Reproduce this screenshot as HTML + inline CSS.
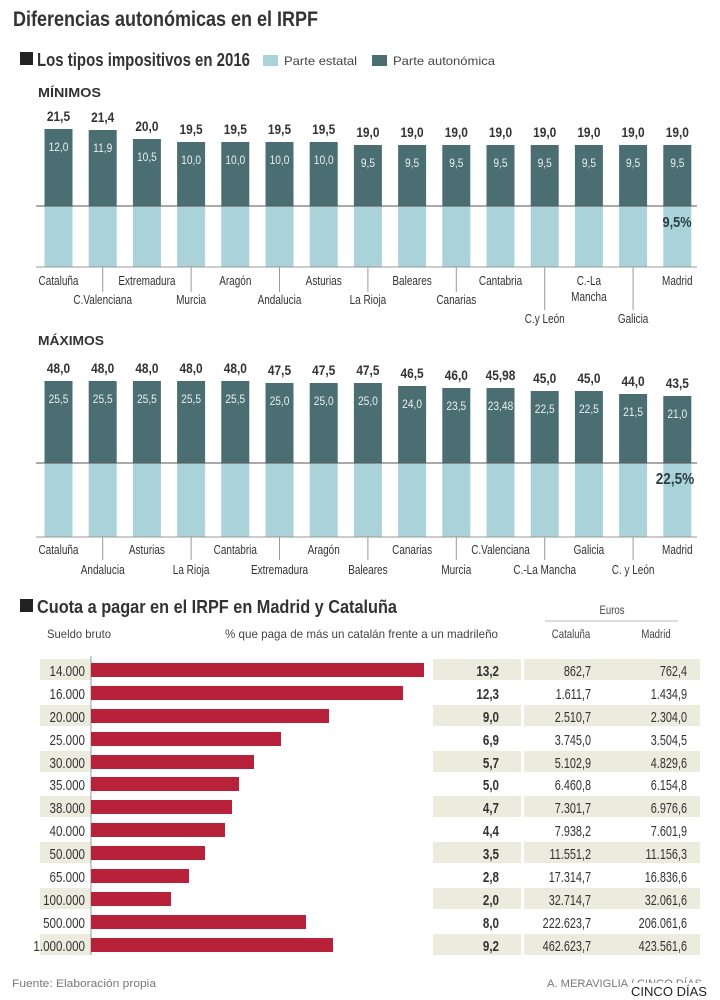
<!DOCTYPE html>
<html><head><meta charset="utf-8"><style>
body{margin:0;background:#fff;}
svg{display:block;font-family:"Liberation Sans",sans-serif;}
.t{fill:#333;}
.vb{font-weight:bold;font-size:14px;fill:#333;text-anchor:middle;}
.vi{font-size:12px;fill:#e8f0f0;text-anchor:middle;}
.lb{font-size:12.5px;fill:#333;text-anchor:middle;}
.d{fill:#4a6e72;}
.l{fill:#a9d3d8;}
.rl{font-size:14.5px;fill:#333;text-anchor:end;}
.rv{font-size:14.5px;font-weight:bold;fill:#333;text-anchor:end;}
.bar{fill:#b8213a;}
.bg{fill:#ebebde;}
</style></head><body>
<svg width="720" height="1000" viewBox="0 0 720 1000">
<text x="13" y="26" font-size="21" font-weight="bold" class="t" textLength="305" lengthAdjust="spacingAndGlyphs">Diferencias autonómicas en el IRPF</text>
<rect x="20" y="52" width="13" height="13" fill="#222"/>
<text x="37" y="66" font-size="18" font-weight="bold" class="t" textLength="213" lengthAdjust="spacingAndGlyphs">Los tipos impositivos en 2016</text>
<rect x="263" y="55" width="15" height="11" class="l"/>
<text x="284" y="65" font-size="12" fill="#444" textLength="73" lengthAdjust="spacingAndGlyphs">Parte estatal</text>
<rect x="372" y="55" width="15" height="11" class="d"/>
<text x="393" y="65" font-size="12" fill="#444" textLength="102" lengthAdjust="spacingAndGlyphs">Parte autonómica</text>

<text x="38" y="97" font-size="13" font-weight="bold" class="t" textLength="63" lengthAdjust="spacingAndGlyphs">MÍNIMOS</text>
<g>
<rect x="44.5" y="129" width="28" height="77" class="d"/><rect x="44.5" y="206" width="28" height="61" class="l"/><text transform="translate(58.5,121) scale(.85,1)" class="vb">21,5</text><text transform="translate(58.5,151) scale(.85,1)" class="vi">12,0</text>
<rect x="88.7" y="130" width="28" height="76" class="d"/><rect x="88.7" y="206" width="28" height="61" class="l"/><text transform="translate(102.7,122) scale(.85,1)" class="vb">21,4</text><text transform="translate(102.7,152) scale(.85,1)" class="vi">11,9</text>
<rect x="132.9" y="139" width="28" height="67" class="d"/><rect x="132.9" y="206" width="28" height="61" class="l"/><text transform="translate(146.9,131) scale(.85,1)" class="vb">20,0</text><text transform="translate(146.9,161) scale(.85,1)" class="vi">10,5</text>
<rect x="177.1" y="142" width="28" height="64" class="d"/><rect x="177.1" y="206" width="28" height="61" class="l"/><text transform="translate(191.1,134) scale(.85,1)" class="vb">19,5</text><text transform="translate(191.1,164) scale(.85,1)" class="vi">10,0</text>
<rect x="221.3" y="142" width="28" height="64" class="d"/><rect x="221.3" y="206" width="28" height="61" class="l"/><text transform="translate(235.3,134) scale(.85,1)" class="vb">19,5</text><text transform="translate(235.3,164) scale(.85,1)" class="vi">10,0</text>
<rect x="265.5" y="142" width="28" height="64" class="d"/><rect x="265.5" y="206" width="28" height="61" class="l"/><text transform="translate(279.5,134) scale(.85,1)" class="vb">19,5</text><text transform="translate(279.5,164) scale(.85,1)" class="vi">10,0</text>
<rect x="309.7" y="142" width="28" height="64" class="d"/><rect x="309.7" y="206" width="28" height="61" class="l"/><text transform="translate(323.7,134) scale(.85,1)" class="vb">19,5</text><text transform="translate(323.7,164) scale(.85,1)" class="vi">10,0</text>
<rect x="353.9" y="145" width="28" height="61" class="d"/><rect x="353.9" y="206" width="28" height="61" class="l"/><text transform="translate(367.9,137) scale(.85,1)" class="vb">19,0</text><text transform="translate(367.9,167) scale(.85,1)" class="vi">9,5</text>
<rect x="398.1" y="145" width="28" height="61" class="d"/><rect x="398.1" y="206" width="28" height="61" class="l"/><text transform="translate(412.1,137) scale(.85,1)" class="vb">19,0</text><text transform="translate(412.1,167) scale(.85,1)" class="vi">9,5</text>
<rect x="442.3" y="145" width="28" height="61" class="d"/><rect x="442.3" y="206" width="28" height="61" class="l"/><text transform="translate(456.3,137) scale(.85,1)" class="vb">19,0</text><text transform="translate(456.3,167) scale(.85,1)" class="vi">9,5</text>
<rect x="486.5" y="145" width="28" height="61" class="d"/><rect x="486.5" y="206" width="28" height="61" class="l"/><text transform="translate(500.5,137) scale(.85,1)" class="vb">19,0</text><text transform="translate(500.5,167) scale(.85,1)" class="vi">9,5</text>
<rect x="530.7" y="145" width="28" height="61" class="d"/><rect x="530.7" y="206" width="28" height="61" class="l"/><text transform="translate(544.7,137) scale(.85,1)" class="vb">19,0</text><text transform="translate(544.7,167) scale(.85,1)" class="vi">9,5</text>
<rect x="574.9" y="145" width="28" height="61" class="d"/><rect x="574.9" y="206" width="28" height="61" class="l"/><text transform="translate(588.9,137) scale(.85,1)" class="vb">19,0</text><text transform="translate(588.9,167) scale(.85,1)" class="vi">9,5</text>
<rect x="619.1" y="145" width="28" height="61" class="d"/><rect x="619.1" y="206" width="28" height="61" class="l"/><text transform="translate(633.1,137) scale(.85,1)" class="vb">19,0</text><text transform="translate(633.1,167) scale(.85,1)" class="vi">9,5</text>
<rect x="663.3" y="145" width="28" height="61" class="d"/><rect x="663.3" y="206" width="28" height="61" class="l"/><text transform="translate(677.3,137) scale(.85,1)" class="vb">19,0</text><text transform="translate(677.3,167) scale(.85,1)" class="vi">9,5</text>
</g>
<line x1="36" y1="206" x2="697" y2="206" stroke="#555" stroke-width="1"/>
<line x1="36" y1="267" x2="697" y2="267" stroke="#999" stroke-width="1"/>
<text transform="translate(677,227) scale(.85,1)" font-size="15" font-weight="bold" fill="#2b3f42" text-anchor="middle">9,5%</text>
<g stroke="#999" stroke-width="1">
<line x1="102.7" y1="267" x2="102.7" y2="292"/><line x1="191.1" y1="267" x2="191.1" y2="292"/><line x1="279.5" y1="267" x2="279.5" y2="292"/><line x1="367.9" y1="267" x2="367.9" y2="292"/><line x1="456.3" y1="267" x2="456.3" y2="292"/><line x1="544.7" y1="267" x2="544.7" y2="310"/><line x1="633.1" y1="267" x2="633.1" y2="310"/>
</g>
<text transform="translate(58.5,285) scale(.8,1)" class="lb">Cataluña</text><text transform="translate(146.9,285) scale(.8,1)" class="lb">Extremadura</text><text transform="translate(235.3,285) scale(.8,1)" class="lb">Aragón</text><text transform="translate(323.7,285) scale(.8,1)" class="lb">Asturias</text><text transform="translate(412.1,285) scale(.8,1)" class="lb">Baleares</text><text transform="translate(500.5,285) scale(.8,1)" class="lb">Cantabria</text><text transform="translate(588.9,285) scale(.8,1)" class="lb">C.-La</text><text transform="translate(588.9,301) scale(.8,1)" class="lb">Mancha</text><text transform="translate(677.3,285) scale(.8,1)" class="lb">Madrid</text>
<text transform="translate(102.7,304) scale(.8,1)" class="lb">C.Valenciana</text><text transform="translate(191.1,304) scale(.8,1)" class="lb">Murcia</text><text transform="translate(279.5,304) scale(.8,1)" class="lb">Andalucia</text><text transform="translate(367.9,304) scale(.8,1)" class="lb">La Rioja</text><text transform="translate(456.3,304) scale(.8,1)" class="lb">Canarias</text>
<text transform="translate(544.7,323) scale(.8,1)" class="lb">C.y León</text><text transform="translate(633.1,323) scale(.8,1)" class="lb">Galicia</text>

<text x="38" y="345" font-size="13" font-weight="bold" class="t" textLength="66" lengthAdjust="spacingAndGlyphs">MÁXIMOS</text>
<g>
<rect x="44.5" y="381" width="28" height="82" class="d"/><rect x="44.5" y="463" width="28" height="74" class="l"/><text transform="translate(58.5,373) scale(.85,1)" class="vb">48,0</text><text transform="translate(58.5,403) scale(.85,1)" class="vi">25,5</text>
<rect x="88.7" y="381" width="28" height="82" class="d"/><rect x="88.7" y="463" width="28" height="74" class="l"/><text transform="translate(102.7,373) scale(.85,1)" class="vb">48,0</text><text transform="translate(102.7,403) scale(.85,1)" class="vi">25,5</text>
<rect x="132.9" y="381" width="28" height="82" class="d"/><rect x="132.9" y="463" width="28" height="74" class="l"/><text transform="translate(146.9,373) scale(.85,1)" class="vb">48,0</text><text transform="translate(146.9,403) scale(.85,1)" class="vi">25,5</text>
<rect x="177.1" y="381" width="28" height="82" class="d"/><rect x="177.1" y="463" width="28" height="74" class="l"/><text transform="translate(191.1,373) scale(.85,1)" class="vb">48,0</text><text transform="translate(191.1,403) scale(.85,1)" class="vi">25,5</text>
<rect x="221.3" y="381" width="28" height="82" class="d"/><rect x="221.3" y="463" width="28" height="74" class="l"/><text transform="translate(235.3,373) scale(.85,1)" class="vb">48,0</text><text transform="translate(235.3,403) scale(.85,1)" class="vi">25,5</text>
<rect x="265.5" y="383" width="28" height="80" class="d"/><rect x="265.5" y="463" width="28" height="74" class="l"/><text transform="translate(279.5,375) scale(.85,1)" class="vb">47,5</text><text transform="translate(279.5,405) scale(.85,1)" class="vi">25,0</text>
<rect x="309.7" y="383" width="28" height="80" class="d"/><rect x="309.7" y="463" width="28" height="74" class="l"/><text transform="translate(323.7,375) scale(.85,1)" class="vb">47,5</text><text transform="translate(323.7,405) scale(.85,1)" class="vi">25,0</text>
<rect x="353.9" y="383" width="28" height="80" class="d"/><rect x="353.9" y="463" width="28" height="74" class="l"/><text transform="translate(367.9,375) scale(.85,1)" class="vb">47,5</text><text transform="translate(367.9,405) scale(.85,1)" class="vi">25,0</text>
<rect x="398.1" y="386" width="28" height="77" class="d"/><rect x="398.1" y="463" width="28" height="74" class="l"/><text transform="translate(412.1,378) scale(.85,1)" class="vb">46,5</text><text transform="translate(412.1,408) scale(.85,1)" class="vi">24,0</text>
<rect x="442.3" y="388" width="28" height="75" class="d"/><rect x="442.3" y="463" width="28" height="74" class="l"/><text transform="translate(456.3,380) scale(.85,1)" class="vb">46,0</text><text transform="translate(456.3,410) scale(.85,1)" class="vi">23,5</text>
<rect x="486.5" y="388" width="28" height="75" class="d"/><rect x="486.5" y="463" width="28" height="74" class="l"/><text transform="translate(500.5,380) scale(.85,1)" class="vb">45,98</text><text transform="translate(500.5,410) scale(.85,1)" class="vi">23,48</text>
<rect x="530.7" y="391" width="28" height="72" class="d"/><rect x="530.7" y="463" width="28" height="74" class="l"/><text transform="translate(544.7,383) scale(.85,1)" class="vb">45,0</text><text transform="translate(544.7,413) scale(.85,1)" class="vi">22,5</text>
<rect x="574.9" y="391" width="28" height="72" class="d"/><rect x="574.9" y="463" width="28" height="74" class="l"/><text transform="translate(588.9,383) scale(.85,1)" class="vb">45,0</text><text transform="translate(588.9,413) scale(.85,1)" class="vi">22,5</text>
<rect x="619.1" y="394" width="28" height="69" class="d"/><rect x="619.1" y="463" width="28" height="74" class="l"/><text transform="translate(633.1,386) scale(.85,1)" class="vb">44,0</text><text transform="translate(633.1,416) scale(.85,1)" class="vi">21,5</text>
<rect x="663.3" y="396" width="28" height="67" class="d"/><rect x="663.3" y="463" width="28" height="74" class="l"/><text transform="translate(677.3,388) scale(.85,1)" class="vb">43,5</text><text transform="translate(677.3,418) scale(.85,1)" class="vi">21,0</text>
</g>
<line x1="36" y1="463" x2="697" y2="463" stroke="#555" stroke-width="1"/>
<line x1="36" y1="537" x2="697" y2="537" stroke="#999" stroke-width="1"/>
<text transform="translate(675,484) scale(.85,1)" font-size="16" font-weight="bold" fill="#2b3f42" text-anchor="middle">22,5%</text>
<g stroke="#999" stroke-width="1">
<line x1="102.7" y1="537" x2="102.7" y2="560"/><line x1="191.1" y1="537" x2="191.1" y2="560"/><line x1="279.5" y1="537" x2="279.5" y2="560"/><line x1="367.9" y1="537" x2="367.9" y2="560"/><line x1="456.3" y1="537" x2="456.3" y2="560"/><line x1="544.7" y1="537" x2="544.7" y2="560"/><line x1="633.1" y1="537" x2="633.1" y2="560"/>
</g>
<text transform="translate(58.5,554) scale(.8,1)" class="lb">Cataluña</text><text transform="translate(146.9,554) scale(.8,1)" class="lb">Asturias</text><text transform="translate(235.3,554) scale(.8,1)" class="lb">Cantabria</text><text transform="translate(323.7,554) scale(.8,1)" class="lb">Aragón</text><text transform="translate(412.1,554) scale(.8,1)" class="lb">Canarias</text><text transform="translate(500.5,554) scale(.8,1)" class="lb">C.Valenciana</text><text transform="translate(588.9,554) scale(.8,1)" class="lb">Galicia</text><text transform="translate(677.3,554) scale(.8,1)" class="lb">Madrid</text>
<text transform="translate(102.7,574) scale(.8,1)" class="lb">Andalucia</text><text transform="translate(191.1,574) scale(.8,1)" class="lb">La Rioja</text><text transform="translate(279.5,574) scale(.8,1)" class="lb">Extremadura</text><text transform="translate(367.9,574) scale(.8,1)" class="lb">Baleares</text><text transform="translate(456.3,574) scale(.8,1)" class="lb">Murcia</text><text transform="translate(544.7,574) scale(.8,1)" class="lb">C.-La Mancha</text><text transform="translate(633.1,574) scale(.8,1)" class="lb">C. y León</text>

<rect x="20" y="599" width="13" height="13" fill="#222"/>
<text x="37" y="613" font-size="18" font-weight="bold" class="t" textLength="360" lengthAdjust="spacingAndGlyphs">Cuota a pagar en el IRPF en Madrid y Cataluña</text>
<text transform="translate(612,614) scale(.8,1)" font-size="12" fill="#444" text-anchor="middle">Euros</text>
<line x1="545" y1="621" x2="678" y2="621" stroke="#bbb"/>
<text x="47" y="638" font-size="12" fill="#444" textLength="64" lengthAdjust="spacingAndGlyphs">Sueldo bruto</text>
<text x="225" y="638" font-size="12" fill="#444" textLength="273" lengthAdjust="spacingAndGlyphs">% que paga de más un catalán frente a un madrileño</text>
<text transform="translate(571,638) scale(.8,1)" font-size="12" fill="#444" text-anchor="middle">Cataluña</text>
<text transform="translate(656,638) scale(.8,1)" font-size="12" fill="#444" text-anchor="middle">Madrid</text>
<g>
<rect x="40" y="659" width="51" height="21" class="bg"/><rect x="433" y="659" width="88" height="21" class="bg"/><rect x="524" y="659" width="176" height="21" class="bg"/>
<rect x="40" y="705" width="51" height="21" class="bg"/><rect x="433" y="705" width="88" height="21" class="bg"/><rect x="524" y="705" width="176" height="21" class="bg"/>
<rect x="40" y="751" width="51" height="21" class="bg"/><rect x="433" y="751" width="88" height="21" class="bg"/><rect x="524" y="751" width="176" height="21" class="bg"/>
<rect x="40" y="796" width="51" height="21" class="bg"/><rect x="433" y="796" width="88" height="21" class="bg"/><rect x="524" y="796" width="176" height="21" class="bg"/>
<rect x="40" y="842" width="51" height="21" class="bg"/><rect x="433" y="842" width="88" height="21" class="bg"/><rect x="524" y="842" width="176" height="21" class="bg"/>
<rect x="40" y="888" width="51" height="21" class="bg"/><rect x="433" y="888" width="88" height="21" class="bg"/><rect x="524" y="888" width="176" height="21" class="bg"/>
<rect x="40" y="934" width="51" height="21" class="bg"/><rect x="433" y="934" width="88" height="21" class="bg"/><rect x="524" y="934" width="176" height="21" class="bg"/>
</g>
<line x1="91" y1="656" x2="91" y2="955" stroke="#999"/>
<g>
<rect x="91" y="663" width="333" height="14" class="bar"/>
<rect x="91" y="686" width="312" height="14" class="bar"/>
<rect x="91" y="709" width="238" height="14" class="bar"/>
<rect x="91" y="732" width="190" height="14" class="bar"/>
<rect x="91" y="755" width="163" height="14" class="bar"/>
<rect x="91" y="777" width="148" height="14" class="bar"/>
<rect x="91" y="800" width="141" height="14" class="bar"/>
<rect x="91" y="823" width="134" height="14" class="bar"/>
<rect x="91" y="846" width="114" height="14" class="bar"/>
<rect x="91" y="869" width="98" height="14" class="bar"/>
<rect x="91" y="892" width="80" height="14" class="bar"/>
<rect x="91" y="915" width="215" height="14" class="bar"/>
<rect x="91" y="938" width="242" height="14" class="bar"/>
</g>
<g transform="translate(85,0) scale(.8,1)">
<text x="0" y="676" class="rl">14.000</text><text x="0" y="699" class="rl">16.000</text><text x="0" y="722" class="rl">20.000</text><text x="0" y="745" class="rl">25.000</text><text x="0" y="768" class="rl">30.000</text><text x="0" y="790" class="rl">35.000</text><text x="0" y="813" class="rl">38.000</text><text x="0" y="836" class="rl">40.000</text><text x="0" y="859" class="rl">50.000</text><text x="0" y="882" class="rl">65.000</text><text x="0" y="905" class="rl">100.000</text><text x="0" y="928" class="rl">500.000</text><text x="0" y="951" class="rl">1.000.000</text>
</g>
<g transform="translate(499,0) scale(.8,1)">
<text x="0" y="676" class="rv">13,2</text><text x="0" y="699" class="rv">12,3</text><text x="0" y="722" class="rv">9,0</text><text x="0" y="745" class="rv">6,9</text><text x="0" y="768" class="rv">5,7</text><text x="0" y="790" class="rv">5,0</text><text x="0" y="813" class="rv">4,7</text><text x="0" y="836" class="rv">4,4</text><text x="0" y="859" class="rv">3,5</text><text x="0" y="882" class="rv">2,8</text><text x="0" y="905" class="rv">2,0</text><text x="0" y="928" class="rv">8,0</text><text x="0" y="951" class="rv">9,2</text>
</g>
<g transform="translate(591,0) scale(.75,1)">
<text x="0" y="676" class="rl">862,7</text><text x="0" y="699" class="rl">1.611,7</text><text x="0" y="722" class="rl">2.510,7</text><text x="0" y="745" class="rl">3.745,0</text><text x="0" y="768" class="rl">5.102,9</text><text x="0" y="790" class="rl">6.460,8</text><text x="0" y="813" class="rl">7.301,7</text><text x="0" y="836" class="rl">7.938,2</text><text x="0" y="859" class="rl">11.551,2</text><text x="0" y="882" class="rl">17.314,7</text><text x="0" y="905" class="rl">32.714,7</text><text x="0" y="928" class="rl">222.623,7</text><text x="0" y="951" class="rl">462.623,7</text>
</g>
<g transform="translate(687,0) scale(.75,1)">
<text x="0" y="676" class="rl">762,4</text><text x="0" y="699" class="rl">1.434,9</text><text x="0" y="722" class="rl">2.304,0</text><text x="0" y="745" class="rl">3.504,5</text><text x="0" y="768" class="rl">4.829,6</text><text x="0" y="790" class="rl">6.154,8</text><text x="0" y="813" class="rl">6.976,6</text><text x="0" y="836" class="rl">7.601,9</text><text x="0" y="859" class="rl">11.156,3</text><text x="0" y="882" class="rl">16.836,6</text><text x="0" y="905" class="rl">32.061,6</text><text x="0" y="928" class="rl">206.061,6</text><text x="0" y="951" class="rl">423.561,6</text>
</g>
<text x="12" y="987" font-size="11" fill="#777" textLength="144" lengthAdjust="spacingAndGlyphs">Fuente: Elaboración propia</text>
<text x="547" y="987" font-size="11" fill="#777" textLength="155" lengthAdjust="spacingAndGlyphs">A. MERAVIGLIA / CINCO DÍAS</text>
<rect x="628" y="983" width="92" height="17" fill="#fff"/>
<text x="631" y="996" font-size="13" fill="#222" textLength="76" lengthAdjust="spacingAndGlyphs">CINCO DÍAS</text>
</svg>
</body></html>
